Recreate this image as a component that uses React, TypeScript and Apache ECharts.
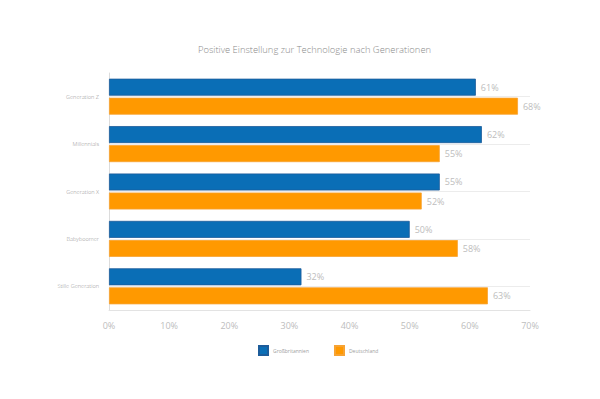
import React, { useEffect, useRef } from "react";
import * as echarts from "echarts";

const categories = ["Generation Z", "Millennials", "Generation X", "Babyboomer", "Stille Generation"];
const grossbritannien = [61, 62, 55, 50, 32];
const deutschland = [68, 55, 52, 58, 63];
const seriesNames = ["Großbritannien", "Deutschland"];
const titleText = "Positive Einstellung zur Technologie nach Generationen";

export default function App() {
  const ref = useRef<HTMLDivElement>(null);
  useEffect(() => {
    if (!ref.current) return;
    const chart = echarts.init(ref.current, null, { renderer: "svg" });
    const font = "'Open Sans', sans-serif";
    const labelCfg = {
      show: true,
      position: "right",
      distance: 5,
      formatter: "{c}%",
      color: "#bdbdbd",
      fontSize: 9,
      fontFamily: font,
    };
    chart.setOption({
      animation: false,
      backgroundColor: "#ffffff",
      title: {
        text: titleText,
        left: 193,
        top: 40,
        textStyle: { color: "#8a8a8a", fontSize: 9.4, fontWeight: 300, fontFamily: font },
      },
      legend: {
        data: seriesNames,
        top: 340,
        left: 253,
        itemWidth: 9,
        itemHeight: 9,
        itemGap: 25,
        icon: "rect",
        textStyle: { color: "#a0a0a0", fontSize: 5, fontFamily: font },
      },
      grid: { left: 109, right: 70, top: 73, bottom: 89, containLabel: false },
      xAxis: {
        type: "value",
        min: 0,
        max: 70,
        interval: 10,
        axisLine: { show: true, lineStyle: { color: "#e3e3e3" } },
        axisTick: { show: false },
        splitLine: { show: false },
        axisLabel: { formatter: "{value}%", color: "#bdbdbd", fontSize: 9, fontFamily: font, margin: 11 },
      },
      yAxis: {
        type: "category",
        data: categories,
        inverse: true,
        axisLine: { show: true, lineStyle: { color: "#dcdcdc" } },
        axisTick: { show: false },
        splitLine: { show: false },
        axisLabel: { color: "#909090", fontSize: 5.6, fontWeight: 300, fontFamily: font, margin: 10 },
      },
      series: [
        {
          name: "gridlines",
          type: "line",
          data: [],
          z: 1,
          silent: true,
          markLine: {
            silent: true,
            symbol: "none",
            label: { show: false },
            lineStyle: { color: "#ececec", width: 1, type: "solid" },
            data: categories.map((c) => ({ yAxis: c })),
          },
        },
        {
          name: seriesNames[0],
          type: "bar",
          data: grossbritannien,
          barGap: "12%",
          barCategoryGap: "24%",
          z: 3,
          itemStyle: { color: "#0a6eb6", borderColor: "#1d5c9a", borderWidth: 0.8 },
          label: labelCfg,
        },
        {
          name: seriesNames[1],
          type: "bar",
          data: deutschland,
          z: 3,
          itemStyle: { color: "#ff9900", borderColor: "#f7a333", borderWidth: 0.8 },
          label: labelCfg,
        },
      ],
    });
    return () => chart.dispose();
  }, []);
  return <div ref={ref} style={{ width: 600, height: 399, position: "absolute", left: 0, top: 0 }} />;
}
